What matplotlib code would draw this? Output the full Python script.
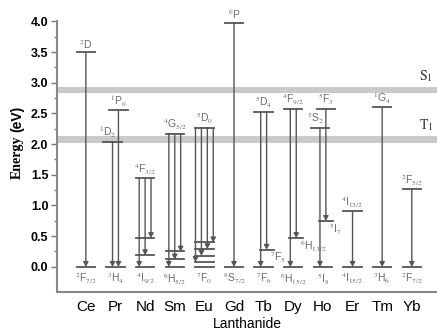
import matplotlib.pyplot as plt

elements = ['Ce', 'Pr', 'Nd', 'Sm', 'Eu', 'Gd', 'Tb', 'Dy', 'Ho', 'Er', 'Tm', 'Yb']

# emitting (upper) levels, eV
upper_levels = [[3.50], [2.04, 2.55], [1.44], [2.17], [2.27], [3.98],
                [2.53], [2.58], [2.27, 2.58], [0.91], [2.60], [1.27]]
upper_names = [['$^{2}$D'], ['$^{1}$D$_2$', '$^{1}$P$_0$'], ['$^{4}$F$_{3/2}$'],
               ['$^{4}$G$_{5/2}$'], ['$^{5}$D$_0$'], ['$^{6}$P'], ['$^{5}$D$_4$'],
               ['$^{4}$F$_{9/2}$'], ['$^{5}$S$_2$', '$^{5}$F$_3$'], ['$^{4}$I$_{13/2}$'],
               ['$^{1}$G$_4$'], ['$^{2}$F$_{5/2}$']]

# final (lower) levels, eV
lower_levels = [[0], [0], [0, 0.19, 0.47], [0, 0.12, 0.25], [0, 0.08, 0.18, 0.29, 0.40],
                [0], [0, 0.28], [0, 0.47], [0, 0.75], [0], [0], [0]]
ground_names = ['$^{2}$F$_{7/2}$', '$^{3}$H$_4$', '$^{4}$I$_{9/2}$', '$^{6}$H$_{5/2}$',
                '$^{7}$F$_0$', '$^{8}$S$_{7/2}$', '$^{7}$F$_6$', '$^{6}$H$_{15/2}$',
                '$^{5}$I$_8$', '$^{4}$I$_{15/2}$', '$^{3}$H$_6$', '$^{2}$F$_{7/2}$']
# labels of labelled intermediate lower levels
mid_names = {6: '$^{7}$F$_5$', 7: '$^{6}$H$_{13/2}$', 8: '$^{5}$I$_7$'}

# transitions (from, to) per lanthanide
transitions = [[(3.50, 0)],
               [(2.04, 0), (2.55, 0)],
               [(1.44, 0), (1.44, 0.19), (1.44, 0.47)],
               [(2.17, 0), (2.17, 0.12), (2.17, 0.25)],
               [(2.27, 0.08), (2.27, 0.18), (2.27, 0.29), (2.27, 0.40)],
               [(3.98, 0)],
               [(2.53, 0), (2.53, 0.28)],
               [(2.58, 0), (2.58, 0.47)],
               [(2.27, 0), (2.58, 0.75)],
               [(0.91, 0)],
               [(2.60, 0)],
               [(1.27, 0)]]

S1 = 2.88
T1 = 2.075

plt.rcParams['mathtext.fontset'] = 'stix'
plt.rcParams['font.family'] = 'Liberation Sans'

line_c = '#6a6a6a'
txt_c = '#6a6a6a'

fig = plt.figure(figsize=(4.37, 3.31), dpi=100)
ax = fig.add_axes([0.130, 0.118, 0.870, 0.819])

ax.axhspan(S1 - 0.05, S1 + 0.05, color='#cacaca', lw=0, zorder=0)
ax.axhspan(T1 - 0.055, T1 + 0.055, color='#cacaca', lw=0, zorder=0)
ax.text(11.25, S1 + 0.1, '$\\mathrm{S}_1$', ha='left', va='bottom', fontsize=10, color='#333')
ax.text(11.25, T1 + 0.1, '$\\mathrm{T}_1$', ha='left', va='bottom', fontsize=10, color='#333')

hw = 0.31
for i, el in enumerate(elements):
    trs = transitions[i]
    n = len(trs)
    step = 0.2
    offs = [i + (k - (n - 1) / 2) * step for k in range(n)]
    # arrows
    for x, (a, b) in zip(offs, trs):
        ax.annotate('', xy=(x, b), xytext=(x, a),
                    arrowprops=dict(arrowstyle='-|>,head_width=0.25,head_length=0.45',
                                    color='#555', lw=1.0, shrinkA=0, shrinkB=0,
                                    mutation_scale=6))
    # upper levels
    for lev, name in zip(upper_levels[i], upper_names[i]):
        xs = [x for x, (a, b) in zip(offs, trs) if a == lev]
        c = sum(xs) / len(xs)
        ax.plot([c - hw, c + hw], [lev, lev], color='#555', lw=1.3)
        dx = 0
        if el == 'Pr' and lev < 2.3:
            dx = -0.15
        if el == 'Ho' and lev < 2.4:
            dx = -0.15
        ax.text(c + dx, lev + 0.02, name, ha='center', va='bottom', fontsize=7.5, color=txt_c)
    # lower levels
    for lev in lower_levels[i]:
        w = hw if lev == 0 or el in ('Nd', 'Sm', 'Eu') else hw * 0.75
        c = i if lev == 0 or el in ('Nd', 'Sm', 'Eu') else offs[-1]
        ax.plot([c - w, c + w], [lev, lev], color='#555', lw=1.3)
    ax.text(i, -0.08, ground_names[i], ha='center', va='top', fontsize=7.5, color=txt_c)
    if i in mid_names:
        ax.text(offs[-1] + 0.12, max(lower_levels[i]) - 0.02, mid_names[i],
                ha='left', va='top', fontsize=7.5, color=txt_c)

ax.set_xlim(-0.98, 11.85)
ax.set_ylim(-0.41, 4.01)
ax.set_xticks(range(len(elements)))
ax.set_xticklabels(elements, fontsize=11)
ax.set_yticks([0, 0.5, 1.0, 1.5, 2.0, 2.5, 3.0, 3.5, 4.0])
ax.set_yticklabels(['0.0', '0.5', '1.0', '1.5', '2.0', '2.5', '3.0', '3.5', '4.0'],
                   fontsize=9, fontweight='bold')
ax.set_yticks([0.25, 0.75, 1.25, 1.75, 2.25, 2.75, 3.25, 3.75], minor=True)
ax.tick_params(axis='x', length=0, pad=6)
ax.tick_params(axis='y', which='major', length=4, width=1, color='#777', pad=2)
ax.tick_params(axis='y', which='minor', length=2.5, width=1, color='#777')
for s in ['top', 'right']:
    ax.spines[s].set_visible(False)
for s in ['left', 'bottom']:
    ax.spines[s].set_color('#888')
    ax.spines[s].set_linewidth(1.5)

ax.set_xlabel('Lanthanide', fontsize=10, labelpad=2)
fig.text(0.040, 0.526, 'Energy', rotation=90, ha='center', va='center',
         fontsize=10, fontweight='bold', family='Liberation Serif')
fig.text(0.040, 0.640, '(eV)', rotation=90, ha='center', va='center',
         fontsize=10, fontweight='bold')

fig.savefig('out.png', dpi=100)
